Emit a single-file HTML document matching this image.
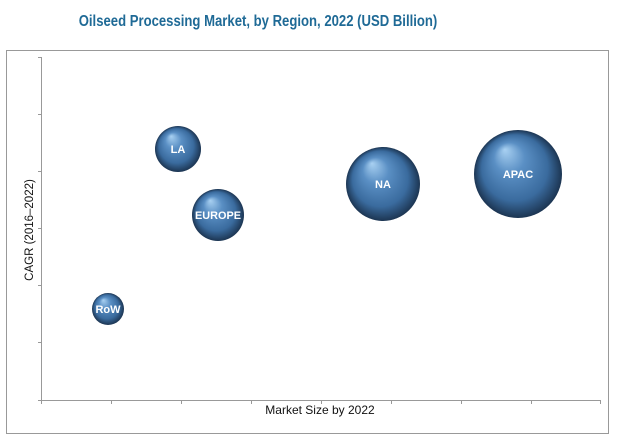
<!DOCTYPE html>
<html><head><style>
body{margin:0;background:#fff;}
</style></head><body>
<svg width="620" height="439" xmlns="http://www.w3.org/2000/svg">
<defs>
<radialGradient id="g" cx="0.5" cy="0.5" r="0.5" fx="0.35" fy="0.22">
<stop offset="0" stop-color="#a9d1f2"/>
<stop offset="0.35" stop-color="#5a8fc4"/>
<stop offset="0.75" stop-color="#3a6b9e"/>
<stop offset="1" stop-color="#1c3552"/>
</radialGradient>
</defs>
<text x="258" y="26" text-anchor="middle" font-family="Liberation Sans, sans-serif" font-weight="bold" font-size="16" fill="#1f6a96" transform="translate(258 0) scale(0.82 1) translate(-258 0)">Oilseed Processing Market, by Region, 2022 (USD Billion)</text>
<rect x="6.5" y="50.5" width="602" height="383" fill="none" stroke="#999"/>
<g stroke="#999" stroke-width="1">
<line x1="41.5" y1="57" x2="41.5" y2="400"/>
<line x1="41" y1="400.5" x2="601" y2="400.5"/>
<line x1="38" y1="57.5" x2="41" y2="57.5"/><line x1="38" y1="114.5" x2="41" y2="114.5"/><line x1="38" y1="171.5" x2="41" y2="171.5"/><line x1="38" y1="228.5" x2="41" y2="228.5"/><line x1="38" y1="285.5" x2="41" y2="285.5"/><line x1="38" y1="342.5" x2="41" y2="342.5"/><line x1="38" y1="400.5" x2="41" y2="400.5"/>
<line x1="41.5" y1="400" x2="41.5" y2="404"/><line x1="111.5" y1="400" x2="111.5" y2="404"/><line x1="181.5" y1="400" x2="181.5" y2="404"/><line x1="251.5" y1="400" x2="251.5" y2="404"/><line x1="321.5" y1="400" x2="321.5" y2="404"/><line x1="391.5" y1="400" x2="391.5" y2="404"/><line x1="461.5" y1="400" x2="461.5" y2="404"/><line x1="531.5" y1="400" x2="531.5" y2="404"/><line x1="600.5" y1="400" x2="600.5" y2="404"/>
</g>
<text x="320" y="414" text-anchor="middle" font-family="Liberation Sans, sans-serif" font-size="12" fill="#111">Market Size by 2022</text>
<text transform="translate(33 230) rotate(-90)" text-anchor="middle" font-family="Liberation Sans, sans-serif" font-size="11.5" fill="#111">CAGR (2016–2022)</text>
<g font-family="Liberation Sans, sans-serif" font-weight="bold" font-size="11" fill="#fff" text-anchor="middle">
<circle cx="178" cy="149" r="23" fill="url(#g)"/><text x="178" y="153">LA</text>
<circle cx="218" cy="215" r="26" fill="url(#g)"/><text x="218" y="219" textLength="46" lengthAdjust="spacingAndGlyphs">EUROPE</text>
<circle cx="383" cy="184" r="37" fill="url(#g)"/><text x="383" y="188">NA</text>
<circle cx="518" cy="174" r="44" fill="url(#g)"/><text x="518" y="178">APAC</text>
<circle cx="108" cy="309" r="16" fill="url(#g)"/><text x="108" y="313">RoW</text>
</g>
</svg>
</body></html>
